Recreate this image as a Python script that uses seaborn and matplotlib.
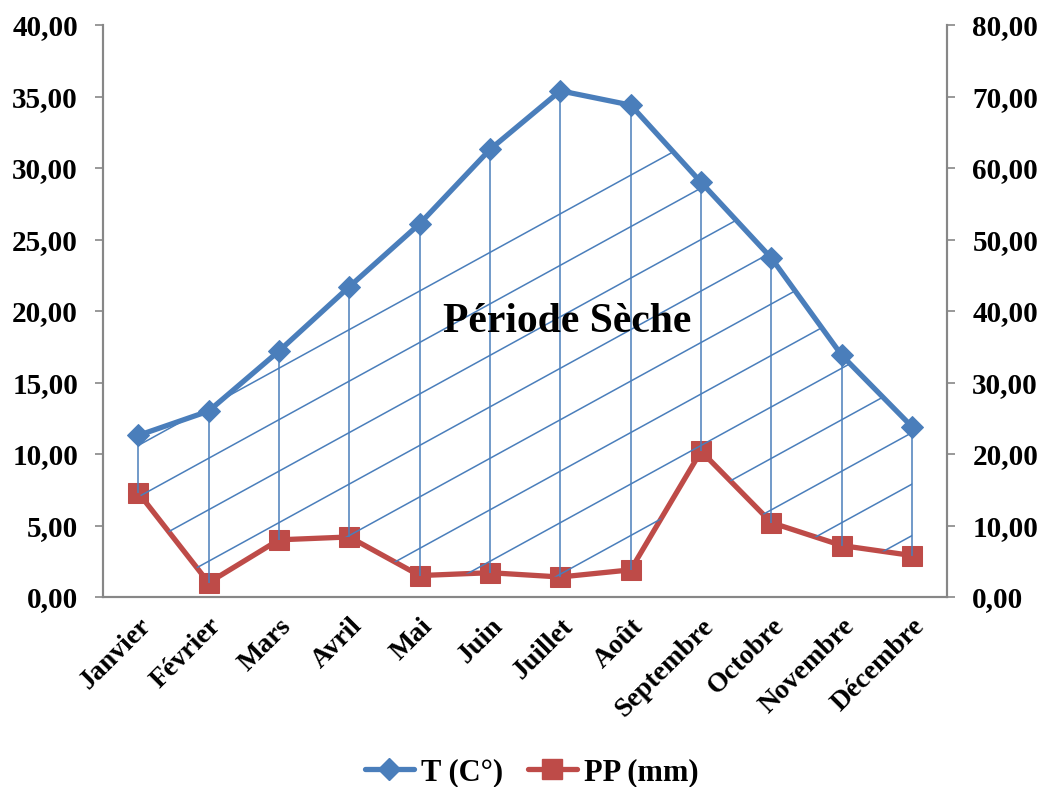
import numpy as np
import pandas as pd
import matplotlib
matplotlib.use("Agg")
import matplotlib.pyplot as plt
from matplotlib.lines import Line2D
import seaborn as sns

months = ["Janvier", "Février", "Mars", "Avril", "Mai", "Juin", "Juillet",
          "Août", "Septembre", "Octobre", "Novembre", "Décembre"]
temp_c = [11.3, 13.0, 17.2, 21.7, 26.1, 31.3, 35.4, 34.4, 29.0, 23.7, 16.9, 11.9]
precip_mm = [14.6, 2.0, 8.0, 8.4, 3.0, 3.4, 2.8, 3.8, 20.4, 10.4, 7.2, 5.8]
left_ticks = [0, 5, 10, 15, 20, 25, 30, 35, 40]
right_ticks = [0, 10, 20, 30, 40, 50, 60, 70, 80]

sns.set_theme(style="white")
plt.rcParams['font.family'] = ['Liberation Serif', 'DejaVu Serif']
plt.rcParams['font.weight'] = 'bold'
plt.rcParams['text.color'] = 'black'
plt.rcParams['xtick.color'] = 'black'
plt.rcParams['ytick.color'] = 'black'

BLUE = "#4A7EBB"
RED = "#BE4B48"
HATCH = "#4A7EBB"
GRAY = "#878787"

df = pd.DataFrame({"idx": np.arange(len(months)), "month": months,
                   "T": temp_c, "PP": precip_mm})
df["PP_half"] = df["PP"] / 2.0

fig = plt.figure(figsize=(10.41, 7.87), dpi=100)
ax = fig.add_axes([0.099, 0.2414, 0.811, 0.7268])
ax2 = ax.twinx()

# dry period hatching: vertical lines and oblique lines clipped to the region
ax.vlines(df["idx"], df["PP_half"], df["T"], color=HATCH, lw=1.1, zorder=1)
poly = ax.fill_between(df["idx"], df["PP_half"], df["T"], facecolor="none",
                       edgecolor="none", zorder=0)
slope = 2.7
xs = np.array([-1, 13])
for b in np.arange(10.6, -40, -3.6):
    ln, = ax.plot(xs, b + slope * xs, color=HATCH, lw=1.1, zorder=1)
    ln.set_clip_path(poly.get_paths()[0], ax.transData)

sns.lineplot(data=df, x="idx", y="T", ax=ax, color=BLUE, lw=3.8, marker="D",
             markersize=11.5, markeredgecolor=BLUE, zorder=3)
sns.lineplot(data=df, x="idx", y="PP", ax=ax2, color=RED, lw=3.8, marker="s",
             markersize=14, markeredgecolor=RED, zorder=3)

ax.set_xlim(-0.5, len(months) - 0.5)
ax.set_ylim(0, 40)
ax2.set_ylim(0, 80)
ax.set_yticks(left_ticks)
ax.set_yticklabels([f"{v:.2f}".replace(".", ",") for v in left_ticks],
                   fontsize=21, fontweight="bold")
ax2.set_yticks(right_ticks)
ax2.set_yticklabels([f"{v:.2f}".replace(".", ",") for v in right_ticks],
                    fontsize=21, fontweight="bold")
ax.set_xticks(np.arange(len(months)))
ax.set_xticklabels(months, rotation=45, ha="right", rotation_mode="anchor",
                   fontsize=20, fontweight="bold")
ax.set_xticks(np.arange(-0.5, len(months), 1), minor=True)
ax.tick_params(axis="x", which="major", length=0, pad=12)
ax.tick_params(axis="x", which="minor", length=6, width=1.2, color=GRAY, direction="out")
ax.tick_params(axis="y", length=6, width=1.2, color=GRAY, direction="out", left=True, pad=12)
ax2.tick_params(axis="y", length=6, width=1.2, color=GRAY, direction="out", right=True, pad=12)
ax.set_xlabel("")
ax.set_ylabel("")
ax2.set_ylabel("")

for a in (ax, ax2):
    for s in ("left", "right", "bottom"):
        a.spines[s].set_visible(True)
        a.spines[s].set_color(GRAY)
        a.spines[s].set_linewidth(1.5)
    a.spines["top"].set_visible(False)
ax.set_zorder(ax2.get_zorder() + 1)
ax.patch.set_visible(False)

ax.text(6.1, 19.2, "Période Sèche", fontsize=30, fontweight="bold",
        ha="center", va="center", zorder=4)

handles = [Line2D([0], [0], color=BLUE, lw=3.8, marker="D", markersize=11.5),
           Line2D([0], [0], color=RED, lw=3.8, marker="s", markersize=14)]
fig.legend(handles, ["T (C°)", "PP (mm)"], loc="lower center",
           bbox_to_anchor=(0.511, -0.035), ncol=2, frameon=False,
           prop={"size": 22, "weight": "bold"}, handlelength=1.6,
           columnspacing=0.8, handletextpad=0.25)

fig.savefig("out.png", dpi=100)
